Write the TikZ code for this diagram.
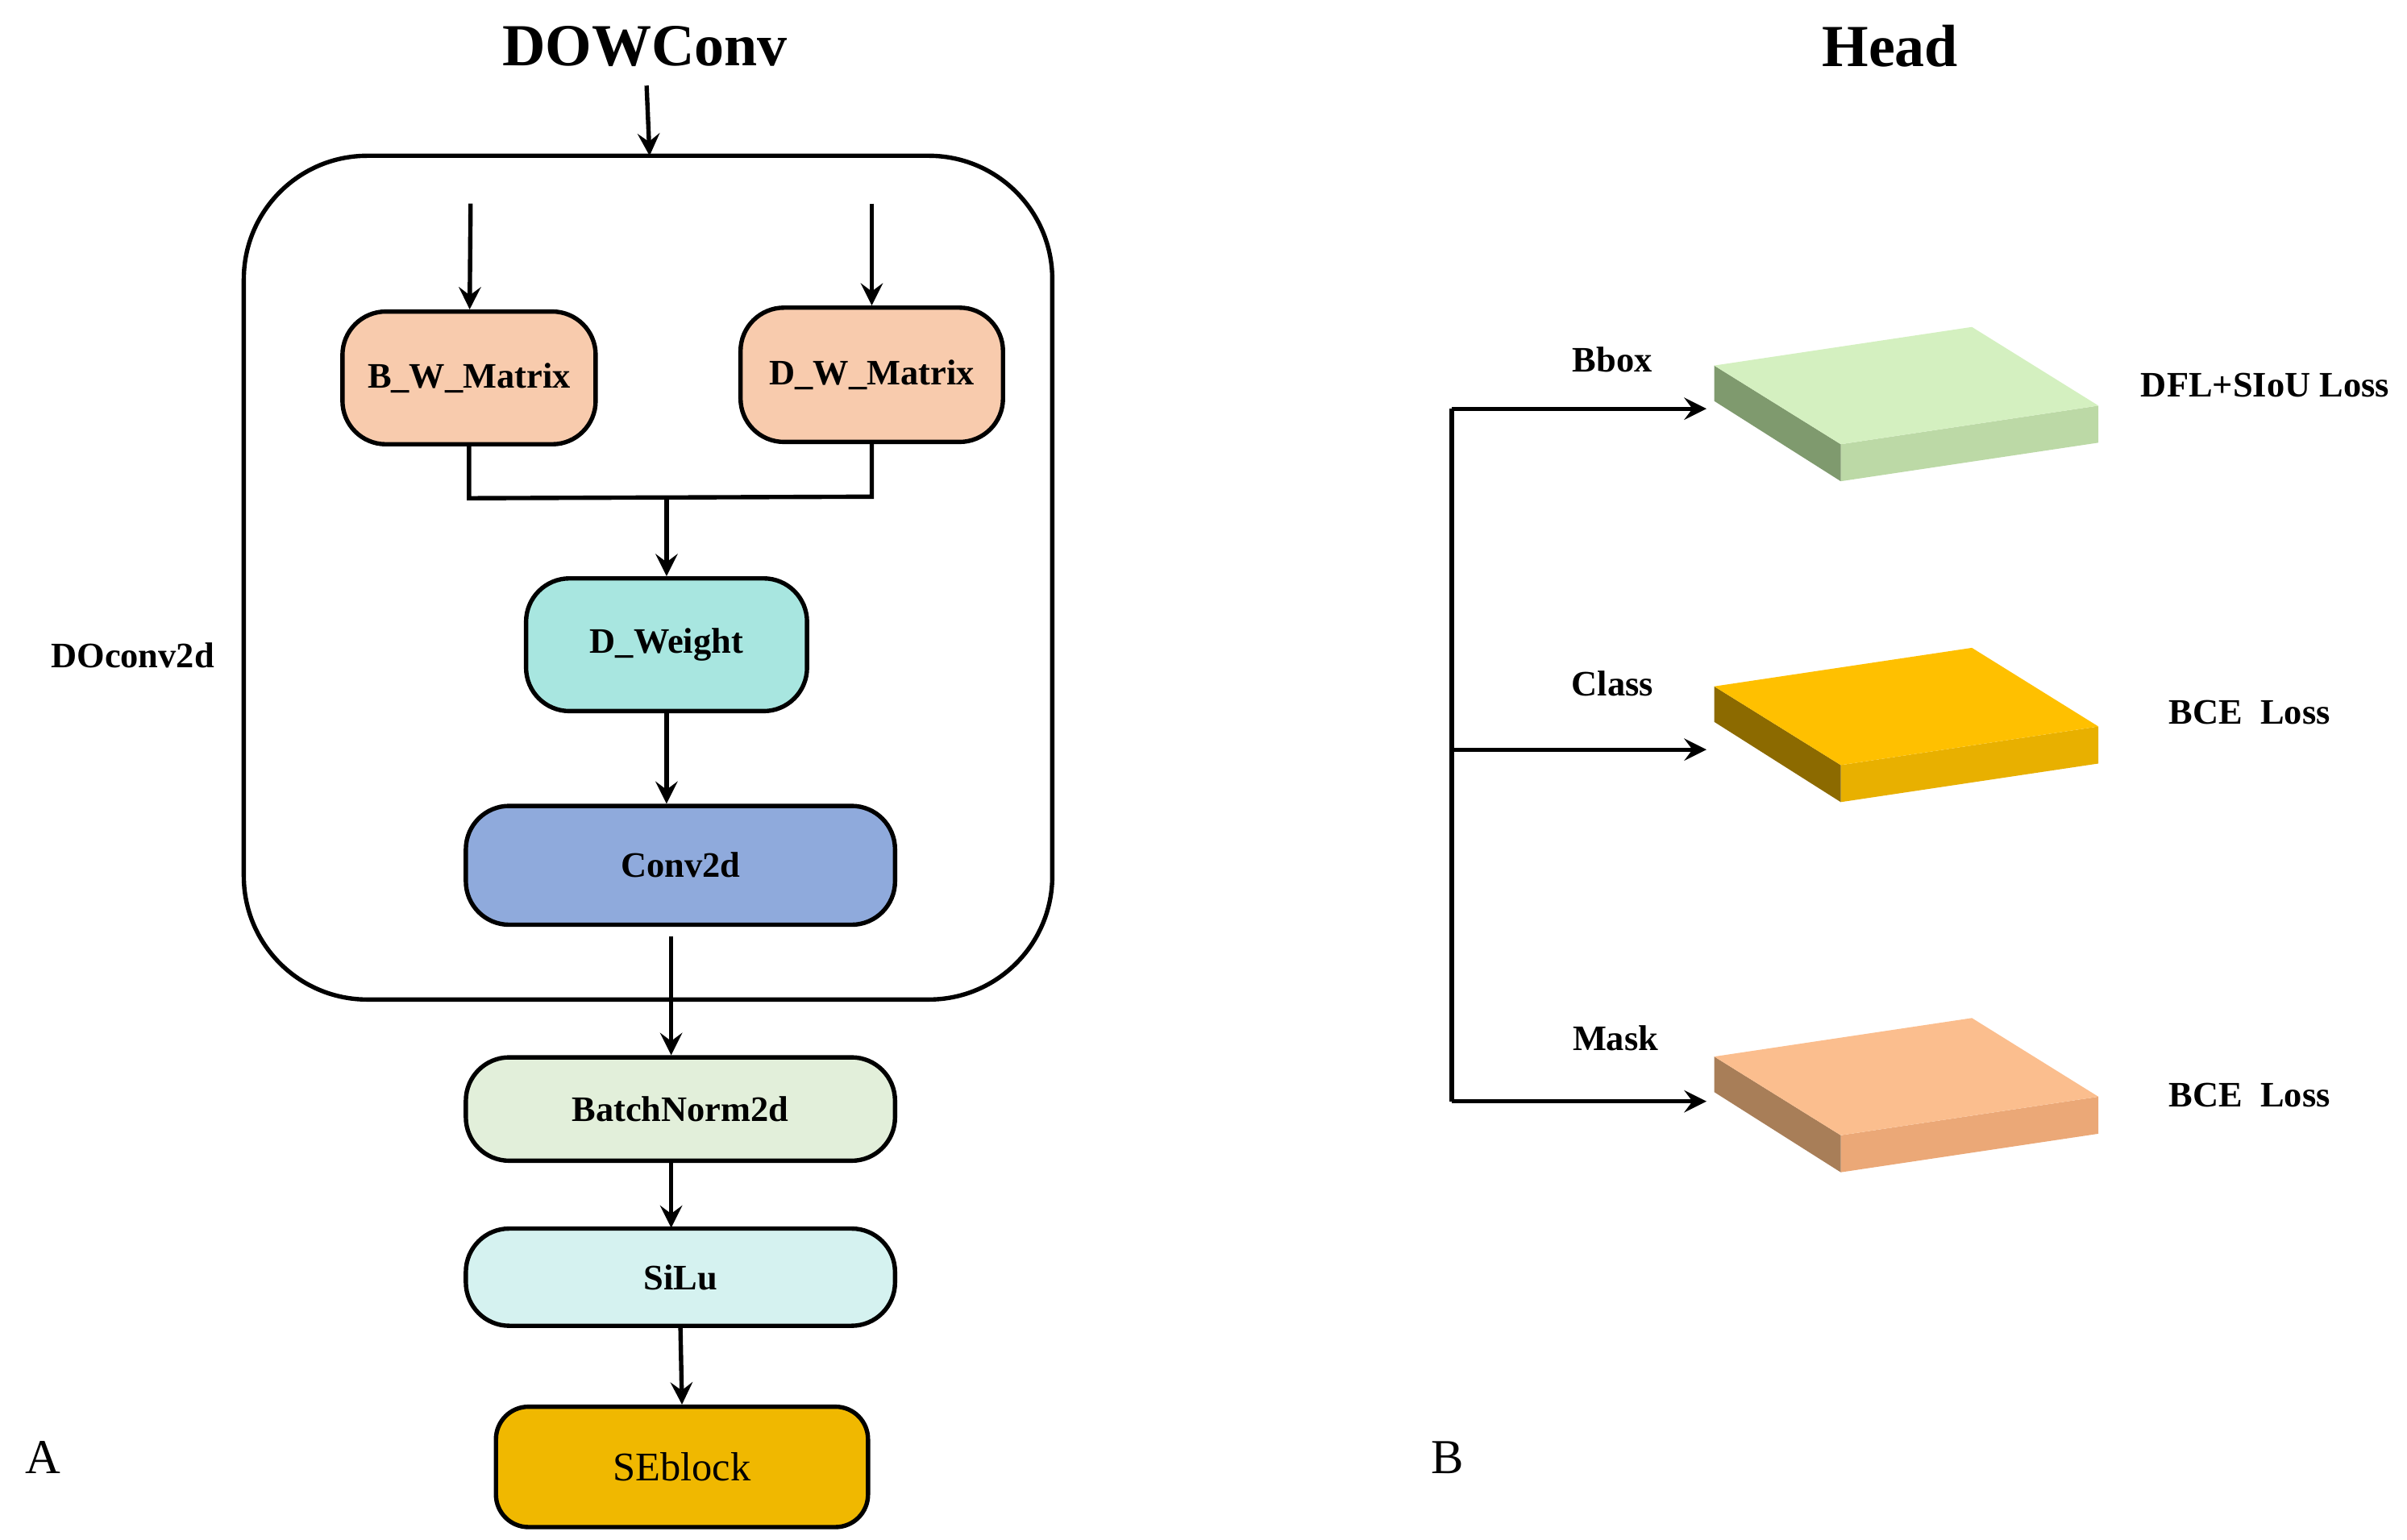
\documentclass[tikz,border=0pt]{standalone}
\usepackage{fontspec}
\setmainfont{Liberation Serif}
\usetikzlibrary{positioning}
\definecolor{peach}{HTML}{F8CBAD}
\definecolor{aqua}{HTML}{A8E6E0}
\definecolor{convblue}{HTML}{8FAADC}
\definecolor{bnlight}{HTML}{E2EFDA}
\definecolor{silulight}{HTML}{D5F2F0}
\definecolor{segold}{HTML}{F0B800}
\definecolor{bbtop}{HTML}{D4F0C0}
\definecolor{bbfront}{HTML}{BCD9A6}
\definecolor{bbside}{HTML}{7F9A6E}
\definecolor{cltop}{HTML}{FFC000}
\definecolor{clfront}{HTML}{E8B000}
\definecolor{clside}{HTML}{8C6A00}
\definecolor{mktop}{HTML}{FBBE8E}
\definecolor{mkfront}{HTML}{EBA877}
\definecolor{mkside}{HTML}{A87E58}
\tikzset{
  blk/.style={draw, thick, rounded corners=8pt, font=\fontsize{6.6}{8}\selectfont\bfseries},
  lbl/.style={font=\fontsize{6.6}{8}\selectfont\bfseries},
  ttl/.style={font=\fontsize{11}{12}\selectfont\bfseries},
  arr/.style={thick,-stealth},
}
\newcommand{\slab}[5]{% y-top, top, front, side, name
  \fill[#3] (1193,#1+51) -- (1360,#1+26) -- (1360,#1+50) -- (1193,#1+75) -- cycle;
  \fill[#4] (1111,#1) -- (1193,#1+51) -- (1193,#1+75) -- (1111,#1+23) -- cycle;
  \fill[#2] (1111,#1) -- (1278,#1-25) -- (1360,#1+26) -- (1193,#1+51) -- cycle;
  \coordinate (#5) at (1106,#1+26);
}
\begin{document}
\begin{tikzpicture}[x=0.01cm,y=-0.01cm]
	\useasboundingbox (0,0) rectangle (1560,998);
	% left part
	\node[ttl] (dow) at (418,30) {DOWConv};
	\draw[thick, rounded corners=0.8cm] (158,101) rectangle (682,648);
	\coordinate (boxtop) at (421,101);
	\draw[arr] (dow) -- (boxtop);
	\node[lbl] at (86,425) {DOconv2d};
	
	\node[blk, fill=peach, minimum width=1.64cm, minimum height=0.86cm] (bw) at (304,245) {B\_W\_Matrix};
	\node[blk, fill=peach, minimum width=1.70cm, minimum height=0.87cm] (dw) at (565,243) {D\_W\_Matrix};
	\coordinate (bwin) at (305,132);
	\coordinate (dwin) at (565,132);
	\draw[arr] (bwin) -- (bw);
	\draw[arr] (dwin) -- (dw);
	
	\node[blk, fill=aqua, minimum width=1.82cm, minimum height=0.86cm] (dweight) at (432,418) {D\_Weight};
	\node[blk, fill=convblue, minimum width=2.78cm, minimum height=0.77cm] (conv) at (441,561) {Conv2d};
	\node[blk, fill=bnlight, minimum width=2.78cm, minimum height=0.67cm] (bn) at (441,719) {BatchNorm2d};
	\node[blk, fill=silulight, minimum width=2.78cm, minimum height=0.63cm] (silu) at (441,828) {SiLu};
	\node[draw, thick, rounded corners=6pt, fill=segold, minimum width=2.41cm, minimum height=0.78cm,
		font=\fontsize{7.5}{8}\selectfont] (se) at (442,951) {SEblock};
	
	\draw[thick] (bw.south) -- (304,323) -- (565,322) -- (dw.south);
	\coordinate (join) at (432,322);
	\draw[arr] (join) -- (dweight);
	\draw[arr] (dweight) -- (dweight|-conv.north);
	\coordinate (convout) at (435,607);
	\draw[arr] (convout) -- (convout|-bn.north);
	\draw[arr] (435,752) -- (435,796);
	\draw[arr] (silu.south) -- (se.north);
	
	\node[font=\fontsize{9}{10}\selectfont] at (28,945) {A};
	\node[font=\fontsize{9}{10}\selectfont] at (938,945) {B};
	
	% right part
	\node[ttl] at (1225,30) {Head};
	\slab{237}{bbtop}{bbfront}{bbside}{bb}
	\slab{445}{cltop}{clfront}{clside}{cl}
	\slab{685}{mktop}{mkfront}{mkside}{mk}
	\coordinate (bbs) at (941,265);
	\coordinate (cls) at (941,486);
	\coordinate (mks) at (941,714);
	\draw[thick] (bbs) -- (mks);
	\draw[arr] (bbs) -- (bbs-|bb);
	\draw[arr] (cls) -- (cls-|cl);
	\draw[arr] (mks) -- (mks-|mk);
	\node[lbl] at (1045,233) {Bbox};
	\node[lbl] at (1045,443) {Class};
	\node[lbl] at (1047,673) {Mask};
	\node[lbl] at (1468,250) {DFL+SIoU Loss};
	\node[lbl] at (1458,462) {BCE\ \ Loss};
	\node[lbl] at (1458,710) {BCE\ \ Loss};
\end{tikzpicture}
\end{document}
